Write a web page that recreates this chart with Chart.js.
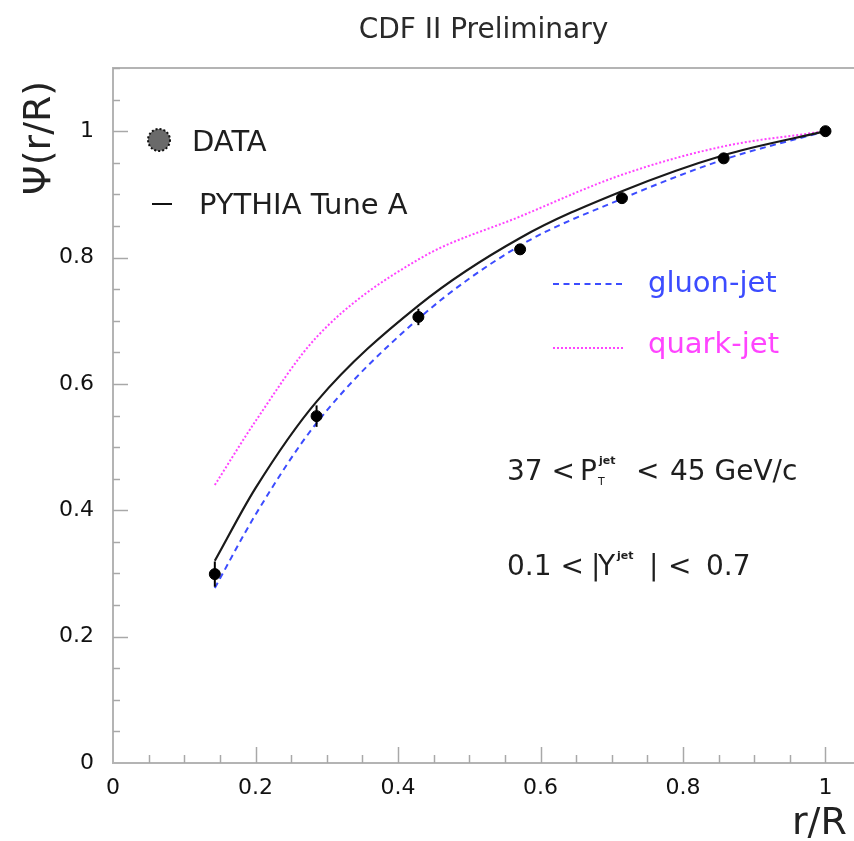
<!DOCTYPE html>
<html>
<head>
<meta charset="utf-8">
<title>CDF II Preliminary - integrated jet shape</title>
<script src="https://cdn.jsdelivr.net/npm/chart.js@4.4.1/dist/chart.umd.min.js"></script>
<style>
  html, body { margin: 0; padding: 0; background: #fff; }
  #wrap { position: relative; width: 854px; height: 841px; }
</style>
</head>
<body>
<div id="wrap"><canvas id="shapeChart" width="854" height="841"></canvas></div>
<script>
// measured jet shape, r/R bins
const dataR = [0.1429, 0.2857, 0.4286, 0.5714, 0.7143, 0.8571, 1.0];
const dataPsi = [0.299, 0.549, 0.706, 0.813, 0.894, 0.957, 1.0];
const dataErr = [0.02, 0.017, 0.013, 0.008, 0.006, 0.005, 0];

// MC predictions, drawn as smooth curves
const curveR = [0.1429, 0.2, 0.2857, 0.4286, 0.5714, 0.7143, 0.8571, 1.0];
const pythiaPsi = [0.32, 0.435, 0.572, 0.724, 0.831, 0.905, 0.962, 1.0];
const gluonPsi = [0.277, 0.393, 0.538, 0.703, 0.819, 0.893, 0.955, 1.0];
const quarkPsi = [0.44, 0.541, 0.674, 0.797, 0.865, 0.931, 0.976, 1.0];

const xTicks = [0, 0.2, 0.4, 0.6, 0.8, 1];
const yTicks = [0, 0.2, 0.4, 0.6, 0.8, 1];

const FONT = "'DejaVu Sans', sans-serif";
const AXIS_GRAY = "#b4b4b4";
const BLUE = "#3c4cff";
const MAGENTA = "#ff44ff";

function toPoints(xs, ys) {
  return xs.map((x, i) => ({ x, y: ys[i] }));
}

function fmtTick(v) {
  return String(Math.round(v * 10) / 10);
}

// inward ROOT-style tick marks, top frame line, error bars and text
const framePlugin = {
  id: "frame",
  beforeDatasetsDraw(chart) {
    const { ctx, chartArea, scales } = chart;
    ctx.save();
    ctx.strokeStyle = AXIS_GRAY;
    ctx.lineWidth = 2;
    ctx.beginPath();
    ctx.moveTo(chartArea.left, chartArea.top);
    ctx.lineTo(chartArea.right, chartArea.top);
    ctx.stroke();

    ctx.strokeStyle = "#a8a8a8";
    ctx.lineWidth = 1.5;
    for (let i = 1; i * 0.05 <= scales.x.max + 1e-9; i++) {
      const px = Math.round(scales.x.getPixelForValue(i * 0.05)) + 0.5;
      const len = i % 4 === 0 ? 16 : 8;
      ctx.beginPath();
      ctx.moveTo(px, chartArea.bottom);
      ctx.lineTo(px, chartArea.bottom - len);
      ctx.stroke();
    }
    for (let i = 1; i * 0.05 <= scales.y.max + 1e-9; i++) {
      const py = Math.round(scales.y.getPixelForValue(i * 0.05)) + 0.5;
      const len = i % 4 === 0 ? 15 : 7;
      ctx.beginPath();
      ctx.moveTo(chartArea.left, py);
      ctx.lineTo(chartArea.left + len, py);
      ctx.stroke();
    }
    ctx.restore();
  },
  afterDatasetsDraw(chart) {
    const { ctx, scales } = chart;
    ctx.save();
    ctx.strokeStyle = "#000";
    ctx.lineWidth = 2;
    dataR.forEach((r, i) => {
      if (!dataErr[i]) return;
      const px = scales.x.getPixelForValue(r);
      ctx.beginPath();
      ctx.moveTo(px, scales.y.getPixelForValue(dataPsi[i] - dataErr[i]));
      ctx.lineTo(px, scales.y.getPixelForValue(dataPsi[i] + dataErr[i]));
      ctx.stroke();
    });
    ctx.restore();
  },
  afterDraw(chart) {
    const { ctx, chartArea } = chart;
    ctx.save();
    ctx.textBaseline = "alphabetic";

    // title
    ctx.fillStyle = "#2a2a2a";
    ctx.font = `28px ${FONT}`;
    ctx.textAlign = "center";
    ctx.fillText("CDF II Preliminary", (chartArea.left + chartArea.right) / 2, 38);

    // axis titles
    ctx.fillStyle = "#222";
    ctx.font = `38px ${FONT}`;
    ctx.textAlign = "left";
    ctx.fillText("r/R", 792, 834);
    ctx.save();
    ctx.translate(50, 138);
    ctx.rotate(-Math.PI / 2);
    ctx.textAlign = "center";
    ctx.fillText("\u03a8(r/R)", 0, 0);
    ctx.restore();

    // legend: data and PYTHIA
    ctx.beginPath();
    ctx.arc(159, 140, 11, 0, Math.PI * 2);
    ctx.fillStyle = "#6a6a6a";
    ctx.fill();
    ctx.setLineDash([2, 2]);
    ctx.strokeStyle = "#111";
    ctx.lineWidth = 2;
    ctx.stroke();
    ctx.setLineDash([]);

    ctx.beginPath();
    ctx.moveTo(152, 204);
    ctx.lineTo(172, 204);
    ctx.strokeStyle = "#111";
    ctx.lineWidth = 2;
    ctx.stroke();

    ctx.fillStyle = "#1e1e1e";
    ctx.font = `29px ${FONT}`;
    ctx.textAlign = "left";
    ctx.fillText("DATA", 192, 151);
    ctx.fillText("PYTHIA Tune A", 199, 214);

    // legend: gluon and quark jets
    ctx.lineWidth = 2;
    ctx.strokeStyle = BLUE;
    ctx.setLineDash([6, 4.5]);
    ctx.beginPath();
    ctx.moveTo(553, 284);
    ctx.lineTo(625, 284);
    ctx.stroke();
    ctx.strokeStyle = MAGENTA;
    ctx.setLineDash([2, 2]);
    ctx.beginPath();
    ctx.moveTo(553, 348);
    ctx.lineTo(625, 348);
    ctx.stroke();
    ctx.setLineDash([]);

    ctx.fillStyle = BLUE;
    ctx.fillText("gluon-jet", 648, 292);
    ctx.fillStyle = MAGENTA;
    ctx.fillText("quark-jet", 648, 353);

    // kinematic cuts
    ctx.fillStyle = "#1e1e1e";
    const big = `28px ${FONT}`;
    const small = `bold 11px ${FONT}`;
    const runs = [
      ["37 <", 507, 480, big],
      ["P", 580, 480, big],
      ["T", 598, 485, `11px ${FONT}`],
      ["jet", 599, 464, small],
      ["<", 636, 480, big],
      ["45 GeV/c", 670, 480, big],
      ["0.1 <", 507, 575, big],
      ["|", 591, 575, big],
      ["Y", 598, 575, big],
      ["jet", 617, 559, small],
      ["|", 649, 575, big],
      ["<", 668, 575, big],
      ["0.7", 706, 575, big]
    ];
    runs.forEach(([text, x, y, font]) => {
      ctx.font = font;
      ctx.fillText(text, x, y);
    });
    ctx.restore();
  }
};

const tickFont = { family: FONT, size: 22 };

const curveStyle = {
  showLine: true,
  pointRadius: 0,
  borderWidth: 2,
  cubicInterpolationMode: "monotone"
};

new Chart(document.getElementById("shapeChart"), {
  type: "scatter",
  data: {
    datasets: [
      {
        label: "DATA",
        data: toPoints(dataR, dataPsi),
        pointRadius: 5.5,
        pointBackgroundColor: "#000",
        pointBorderColor: "#000",
        showLine: false
      },
      {
        ...curveStyle,
        label: "PYTHIA Tune A",
        data: toPoints(curveR, pythiaPsi),
        borderColor: "#1a1a1a",
        borderWidth: 2.2
      },
      {
        ...curveStyle,
        label: "gluon-jet",
        data: toPoints(curveR, gluonPsi),
        borderColor: BLUE,
        borderDash: [6, 4.5]
      },
      {
        ...curveStyle,
        label: "quark-jet",
        data: toPoints(curveR, quarkPsi),
        borderColor: MAGENTA,
        borderDash: [2, 2]
      }
    ]
  },
  options: {
    responsive: false,
    animation: false,
    events: [],
    layout: { autoPadding: false, padding: { top: 68, right: 0, left: 0, bottom: 0 } },
    plugins: {
      legend: { display: false },
      tooltip: { enabled: false }
    },
    scales: {
      x: {
        type: "linear",
        min: 0,
        max: 1.04,
        afterFit: (scale) => {
          scale.height = 78;
          scale.paddingLeft = 0;
          scale.paddingRight = 0;
        },
        afterBuildTicks: (scale) => { scale.ticks = xTicks.map((v) => ({ value: v })); },
        grid: { display: false },
        border: { color: AXIS_GRAY, width: 2 },
        ticks: {
          font: tickFont,
          color: "#111",
          padding: 4,
          maxRotation: 0,
          callback: fmtTick
        }
      },
      y: {
        type: "linear",
        min: 0,
        max: 1.1,
        afterFit: (scale) => {
          scale.width = 113;
          scale.paddingTop = 0;
          scale.paddingBottom = 0;
        },
        afterBuildTicks: (scale) => { scale.ticks = yTicks.map((v) => ({ value: v })); },
        grid: { display: false },
        border: { color: AXIS_GRAY, width: 2 },
        ticks: {
          font: tickFont,
          color: "#111",
          padding: 11,
          callback: fmtTick
        }
      }
    }
  },
  plugins: [framePlugin]
});
</script>
</body>
</html>
